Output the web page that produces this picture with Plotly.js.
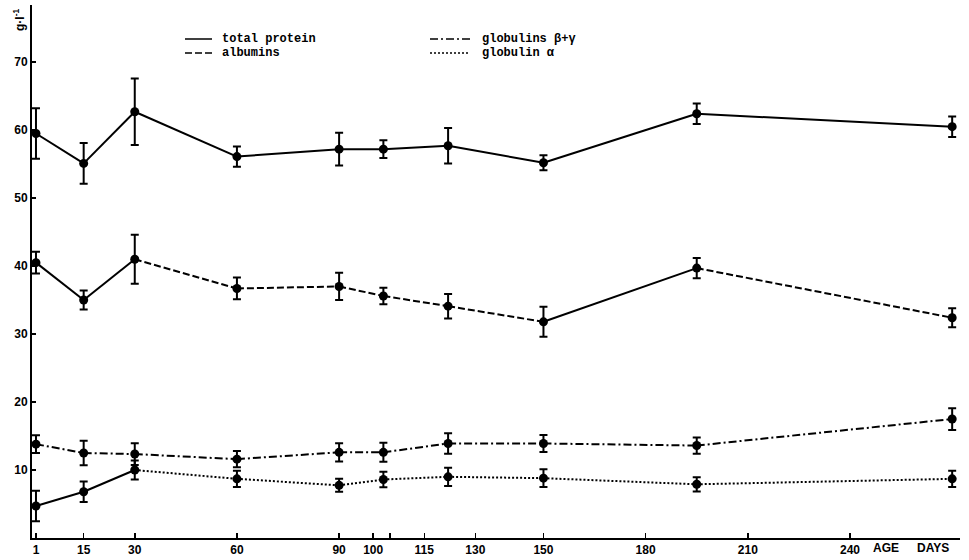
<!DOCTYPE html>
<html>
<head>
<meta charset="utf-8">
<script src="https://cdn.plot.ly/plotly-3.0.1.min.js"></script>
<style>html,body{margin:0;padding:0;background:#fff;}#chart{width:969px;height:560px;}</style>
</head>
<body>
<div id="chart"></div>
<script>
// ---- data ----
const days = [1, 15, 30, 60, 90, 103, 122, 150, 195, 270];
const totalProtein    = [59.5, 55.1, 62.7, 56.1, 57.2, 57.2, 57.7, 55.2, 62.4, 60.5];
const totalProteinErr = [3.7, 3.0, 4.9, 1.5, 2.4, 1.3, 2.6, 1.1, 1.5, 1.5];
const albumins        = [40.5, 35.0, 41.0, 36.7, 37.0, 35.6, 34.1, 31.8, 39.7, 32.4];
const albuminsErr     = [1.6, 1.4, 3.6, 1.6, 2.0, 1.2, 1.8, 2.2, 1.5, 1.4];
const globBetaGamma   = [13.8, 12.5, 12.35, 11.6, 12.6, 12.6, 13.9, 13.9, 13.6, 17.5];
const globBetaGammaErr= [1.3, 1.8, 1.6, 1.2, 1.35, 1.4, 1.5, 1.25, 1.2, 1.6];
const globAlpha       = [4.7, 6.8, 10.0, 8.7, 7.75, 8.6, 9.0, 8.8, 7.9, 8.7];
const globAlphaErr    = [2.25, 1.5, 1.4, 1.2, 0.95, 1.15, 1.35, 1.3, 1.05, 1.2];

const xTickVals = [1, 15, 30, 60, 90, 100, 115, 130, 150, 180, 210, 240];
const xTickText = ['1', '15', '30', '60', '90', '100', '115', '130', '150', '180', '210', '240'];
const xMinorTickVals = [105];
const yTickVals = [10, 20, 30, 40, 50, 60, 70];
const legendNames = ['total protein', 'albumins', 'globulins \u03b2+\u03b3', 'globulin \u03b1'];

// ---- styles ----
const DASH = '7px,3px';
const DASHDOT = '8px,3px,2px,3px';
const DOT = '2px,2px';
const series = [
  {y: totalProtein, e: totalProteinErr, seg: Array(9).fill('solid')},
  {y: albumins, e: albuminsErr, seg: ['solid','solid',DASH,DASH,DASH,DASH,DASH,'solid',DASH]},
  {y: globBetaGamma, e: globBetaGammaErr, seg: Array(9).fill(DASHDOT)},
  {y: globAlpha, e: globAlphaErr, seg: ['solid','solid',DOT,DOT,DOT,DOT,DOT,DOT,DOT]}
];

const traces = [];
series.forEach(s => {
  for (let i = 0; i < days.length - 1; i++) {
    traces.push({
      x: [days[i], days[i+1]], y: [s.y[i], s.y[i+1]],
      mode: 'lines', type: 'scatter', showlegend: false, hoverinfo: 'skip',
      line: {color: '#000', width: 2, dash: s.seg[i]}
    });
  }
  traces.push({
    x: days, y: s.y, mode: 'markers', type: 'scatter', showlegend: false,
    marker: {color: '#000', size: 9, symbol: 'circle'},
    error_y: {type: 'data', array: s.e, visible: true, color: '#000', thickness: 2, width: 4}
  });
});

const legFont = {family: 'Liberation Mono, DejaVu Sans Mono, monospace', size: 12, color: '#000', weight: 'bold'};
const legendItems = [
  {dash: 'solid', x0: 185, x1: 212, y: 39, tx: 220, name: legendNames[0]},
  {dash: DASH, x0: 185, x1: 212, y: 53, tx: 220, name: legendNames[1]},
  {dash: DASHDOT, x0: 430, x1: 470, y: 39, tx: 480, name: legendNames[2]},
  {dash: DOT, x0: 430, x1: 470, y: 53, tx: 480, name: legendNames[3]}
];
const W = 969, H = 560;
const shapes = legendItems.map(it => ({
  type: 'line', xref: 'paper', yref: 'paper',
  x0: (it.x0 - 32) / 928, x1: (it.x1 - 32) / 928,
  y0: (538 - it.y) / 533, y1: (538 - it.y) / 533,
  line: {color: '#000', width: 1.5, dash: it.dash}
}));
const annotations = legendItems.map(it => ({
  xref: 'paper', yref: 'paper', x: (it.tx - 32) / 928, y: (538 - it.y) / 533,
  xanchor: 'left', yanchor: 'middle', showarrow: false, text: it.name, font: legFont
}));
annotations.push({
  xref: 'paper', yref: 'paper', x: (19 - 32) / 928, y: (538 - 20) / 533,
  xanchor: 'center', yanchor: 'middle', showarrow: false, textangle: -90,
  text: 'g\u00b7l<sup>-1</sup>', font: {family: 'Liberation Sans, Arial, sans-serif', size: 12, color: '#000', weight: 'bold'}
});
annotations.push({
  xref: 'paper', yref: 'paper', x: (886 - 32) / 928, y: (538 - 548) / 533,
  xanchor: 'center', yanchor: 'middle', showarrow: false, text: 'AGE',
  font: {family: 'Liberation Sans, Arial, sans-serif', size: 12, color: '#000', weight: 'bold'}
});
annotations.push({
  xref: 'paper', yref: 'paper', x: (933 - 32) / 928, y: (538 - 548) / 533,
  xanchor: 'center', yanchor: 'middle', showarrow: false, text: 'DAYS',
  font: {family: 'Liberation Sans, Arial, sans-serif', size: 12, color: '#000', weight: 'bold'}
});

const tickFont = {family: 'Liberation Sans, Arial, sans-serif', size: 12, color: '#000', weight: 'bold'};
const layout = {
  width: W, height: H,
  margin: {l: 32, r: 9, t: 5, b: 22},
  paper_bgcolor: '#fff', plot_bgcolor: '#fff',
  showlegend: false,
  xaxis: {
    range: [-0.17, 272.3], showgrid: false, zeroline: false,
    showline: true, linecolor: '#000', linewidth: 2,
    ticks: 'inside', ticklen: 5, tickwidth: 1.5, tickcolor: '#000',
    tickvals: xTickVals, ticktext: xTickText, tickfont: tickFont,
    minor: {tickvals: xMinorTickVals, ticks: 'inside', ticklen: 5, tickwidth: 1.5, tickcolor: '#000', showgrid: false}
  },
  yaxis: {
    range: [0, 78.4], showgrid: false, zeroline: false,
    showline: true, linecolor: '#000', linewidth: 2,
    ticks: 'inside', ticklen: 4, tickwidth: 1.5, tickcolor: '#000',
    tickvals: yTickVals, tickfont: tickFont
  },
  shapes: shapes,
  annotations: annotations
};
Plotly.newPlot('chart', traces, layout, {displayModeBar: false, staticPlot: true});
</script>
</body>
</html>
